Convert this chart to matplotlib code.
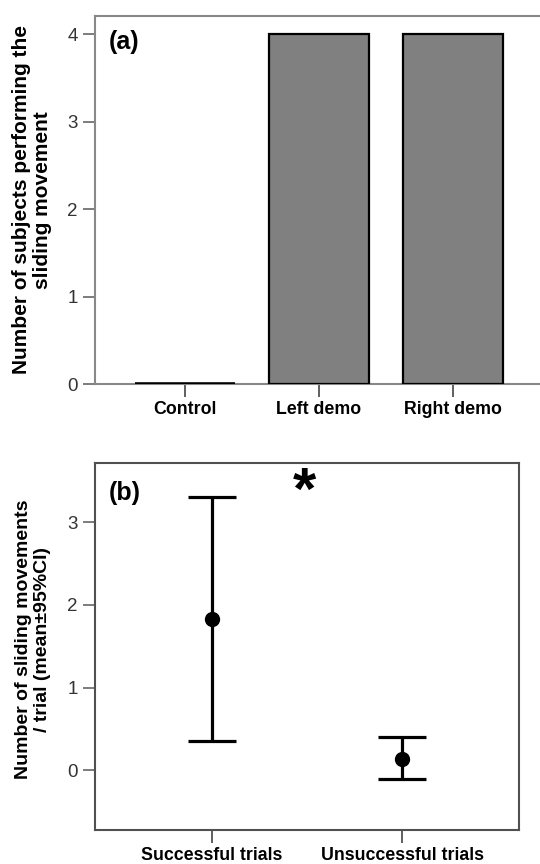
import matplotlib
matplotlib.use("Agg")
import matplotlib.pyplot as plt

plt.rcParams['font.family'] = ['Liberation Sans', 'DejaVu Sans']

# Panel (a) data
groups_a = ["Control", "Left demo", "Right demo"]
counts_a = [0, 4, 4]
yticks_a = [0, 1, 2, 3, 4]

# Panel (b) data
groups_b = ["Successful trials", "Unsuccessful trials"]
mean_b = [1.83, 0.14]
upper_b = [3.30, 0.40]
lower_b = [0.35, -0.11]
yticks_b = [0, 1, 2, 3]

fig = plt.figure(figsize=(5.4, 8.64), dpi=100)

# ---------- Panel (a) ----------
ax1 = fig.add_axes([0.1759, 0.5552, 0.8241, 0.4263])
xa = list(range(len(groups_a)))
ax1.bar(xa, counts_a, width=0.75, color="#808080", edgecolor="black",
        linewidth=[2.6, 1.6, 1.6], zorder=3)
ax1.set_xlim(-0.672, 2.65)
ax1.set_ylim(0, 4.21)
ax1.set_yticks(yticks_a)
ax1.set_xticks(xa)
ax1.set_xticklabels(groups_a, fontsize=12.8, fontweight='bold')
for s in ['left', 'top', 'bottom']:
    ax1.spines[s].set_color('#888888')
    ax1.spines[s].set_linewidth(1.5)
ax1.spines['right'].set_visible(False)
ax1.tick_params(axis='y', length=9, width=1.2, color='#666666', labelsize=13.5, labelcolor='#333333', pad=3.4)
ax1.tick_params(axis='x', length=9, width=1.2, color='#444444', pad=3)
ax1.text(0.032, 0.929, "(a)", transform=ax1.transAxes, fontsize=18, fontweight='bold', ha='left', va='center')
fig.text(32/540, 1 - 200/864, "Number of subjects performing the\nsliding movement",
         rotation=90, ha='center', va='center', ma='center', fontsize=15, fontweight='bold',
         linespacing=1.15)

# ---------- Panel (b) ----------
ax2 = fig.add_axes([0.1759, 0.0390, 0.7858, 0.4255])
xb = list(range(len(groups_b)))
yerr = [[m - l for m, l in zip(mean_b, lower_b)], [u - m for m, u in zip(mean_b, upper_b)]]
ax2.errorbar(xb, mean_b, yerr=yerr, fmt='o', color='black', markersize=10,
             elinewidth=2.3, capsize=17, capthick=2.3, zorder=3)
ax2.set_xlim(-0.613, 1.613)
ax2.set_ylim(-0.726, 3.72)
ax2.set_yticks(yticks_b)
ax2.set_xticks(xb)
ax2.set_xticklabels(groups_b, fontsize=12.8, fontweight='bold')
for s in ax2.spines.values():
    s.set_color('#505050')
    s.set_linewidth(1.5)
ax2.tick_params(axis='y', length=9, width=1.2, color='#666666', labelsize=13.5, labelcolor='#333333', pad=3.4)
ax2.tick_params(axis='x', length=9, width=1.2, color='#444444', pad=3)
ax2.text(0.032, 0.9176, "(b)", transform=ax2.transAxes, fontsize=18, fontweight='bold', ha='left', va='center')
ax2.text(0.484, 3.35, "*", fontsize=43, fontweight='bold', ha='center', va='center')
fig.text(33/540, 1 - 639.5/864, "Number of sliding movements\n/ trial (mean±95%CI)",
         rotation=90, ha='center', va='center', ma='center', fontsize=14, fontweight='bold',
         linespacing=1.15)

fig.savefig("out.png", dpi=100)
